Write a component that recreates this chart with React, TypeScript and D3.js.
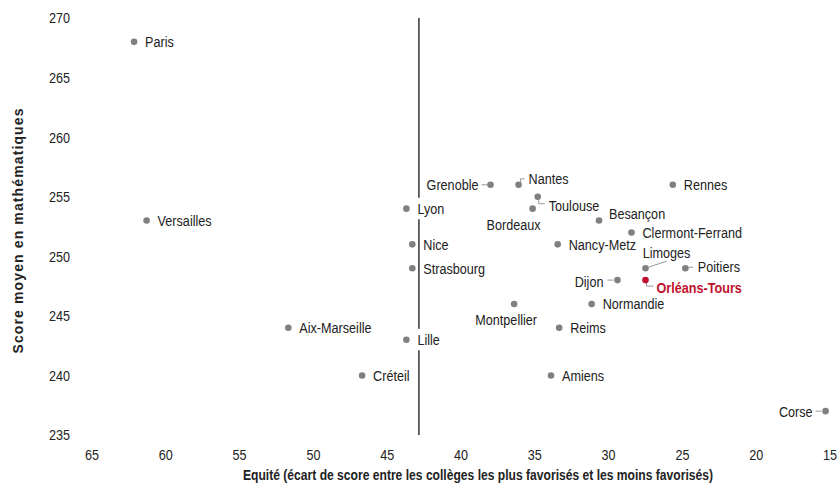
import React, { useEffect, useRef } from "react";
import * as d3 from "d3";

const W = 838;
const H = 483;

// Académies: equity gap (x) and mean score in maths (y)
const academies = [
  "Paris", "Versailles", "Grenoble", "Nantes", "Toulouse", "Bordeaux", "Lyon",
  "Rennes", "Besançon", "Clermont-Ferrand", "Nice", "Nancy-Metz", "Limoges",
  "Poitiers", "Strasbourg", "Dijon", "Orléans-Tours", "Montpellier", "Normandie",
  "Aix-Marseille", "Reims", "Lille", "Créteil", "Amiens", "Corse",
];
const equite = [
  62.15, 61.3, 38.0, 36.1, 34.8, 35.15, 43.7,
  25.65, 30.65, 28.45, 43.3, 33.45, 27.5,
  24.8, 43.3, 29.4, 27.5, 36.4, 31.15,
  51.7, 33.35, 43.7, 46.7, 33.9, 15.3,
];
const scores = [
  268, 253, 256, 256, 255, 254, 254,
  256, 253, 252, 251, 251, 249,
  249, 249, 248, 248, 246, 246,
  244, 244, 243, 240, 240, 237,
];
const xTicks = [65, 60, 55, 50, 45, 40, 35, 30, 25, 20, 15];
const yTicks = [270, 265, 260, 255, 250, 245, 240, 235];
const moyenneEquite = 42.85;
const highlight = "Orléans-Tours";

type Place = { dx: number; dy: number; anchor: string; leader?: [number, number][] };

// label placement (offsets from the point, in px)
const placement: Record<string, Place> = {
  Grenoble: { dx: -12, dy: 0, anchor: "end", leader: [[-3, 0], [-9, 0]] },
  Dijon: { dx: -14, dy: 1, anchor: "end", leader: [[-4, 0], [-10, 0]] },
  Corse: { dx: -13, dy: 0, anchor: "end", leader: [[-4, 0], [-10, 0]] },
  Nantes: { dx: 10, dy: -6, anchor: "start", leader: [[2, -2], [2, -6], [6, -6]] },
  Toulouse: { dx: 11, dy: 8.5, anchor: "start", leader: [[1, 3], [1, 7], [7, 7]] },
  Bordeaux: { dx: -19, dy: 16, anchor: "middle" },
  Montpellier: { dx: -8, dy: 16, anchor: "middle" },
  Besançon: { dx: 10, dy: -6.5, anchor: "start" },
  Limoges: { dx: 21, dy: -16, anchor: "middle", leader: [[3, -1], [21, -7]] },
  Poitiers: { dx: 12.5, dy: -2, anchor: "start", leader: [[3, -1], [8, -1]] },
  "Orléans-Tours": { dx: 11, dy: 7, anchor: "start", leader: [[1, 2], [1, 6], [8, 6]] },
};

const FONT = "'Liberation Sans', Arial, sans-serif";
const NARROW = 0.82; // no Arial Narrow here: squeeze Liberation Sans

export default function App() {
  const svgRef = useRef<SVGSVGElement>(null);

  useEffect(() => {
    document.body.style.margin = "0";
    if (!svgRef.current) return;
    const svg = d3.select(svgRef.current);
    svg.selectAll("*").remove();

    const x = d3.scaleLinear().domain([65, 15]).range([92, 830]);
    const y = d3.scaleLinear().domain([270, 235]).range([18, 435]);

    const narrowText = (
      g: d3.Selection<SVGGElement, unknown, null, undefined>,
      tx: number, ty: number, txt: string, anchor: string,
      opts: { size?: number; weight?: string; fill?: string; box?: boolean } = {}
    ) => {
      const grp = g.append("g").attr("transform", `translate(${tx},${ty}) scale(${NARROW},1)`);
      const t = grp.append("text")
        .attr("dy", "0.35em")
        .attr("text-anchor", anchor)
        .style("font-family", FONT)
        .style("font-size", `${opts.size ?? 15.4}px`)
        .style("font-weight", opts.weight ?? "normal")
        .attr("fill", opts.fill ?? "#222")
        .text(txt);
      if (opts.box) {
        const b = (t.node() as SVGTextElement).getBBox();
        grp.insert("rect", "text")
          .attr("x", b.x - 3.5)
          .attr("y", b.y - 2)
          .attr("width", b.width + 7)
          .attr("height", b.height + 4)
          .attr("fill", "#fff");
      }
      return grp;
    };

    // tick labels
    const ticks = svg.append("g");
    yTicks.forEach(v => narrowText(ticks, 70, y(v), String(v), "end"));
    xTicks.forEach(v => narrowText(ticks, x(v), 455, String(v), "middle"));

    // axis titles
    svg.append("text")
      .attr("x", 478)
      .attr("y", 475)
      .attr("dy", "0.35em")
      .attr("text-anchor", "middle")
      .attr("textLength", 470)
      .attr("lengthAdjust", "spacingAndGlyphs")
      .style("font-family", FONT)
      .style("font-size", "15px")
      .style("font-weight", "bold")
      .attr("fill", "#222")
      .text("Equité (écart de score entre les collèges les plus favorisés et les moins favorisés)");

    svg.append("text")
      .attr("transform", "translate(18,231) rotate(-90)")
      .attr("dy", "0.35em")
      .attr("text-anchor", "middle")
      .attr("textLength", 245)
      .attr("lengthAdjust", "spacing")
      .style("font-family", FONT)
      .style("font-size", "14px")
      .style("font-weight", "bold")
      .attr("fill", "#222")
      .text("Score moyen en mathématiques");

    // average equity line
    svg.append("line")
      .attr("x1", x(moyenneEquite))
      .attr("x2", x(moyenneEquite))
      .attr("y1", y(270))
      .attr("y2", y(235))
      .attr("stroke", "#000")
      .attr("stroke-width", 1.2);

    const pts = academies.map((name, i) => ({
      name,
      px: x(equite[i]),
      py: y(scores[i]),
      place: placement[name] || { dx: 11, dy: 0, anchor: "start" },
    }));

    // labels with white boxes (they cut the vertical line)
    const labelLayer = svg.append("g");
    pts.forEach(d => {
      const hl = d.name === highlight;
      narrowText(labelLayer, d.px + d.place.dx, d.py + d.place.dy, d.name, d.place.anchor, {
        weight: hl ? "bold" : "normal",
        fill: hl ? "#c0102c" : "#222",
        box: true,
      });
    });

    // leader lines
    const line = d3.line();
    svg.append("g")
      .selectAll("path")
      .data(pts.filter(d => d.place.leader))
      .join("path")
      .attr("d", d => line(d.place.leader!.map(([a, b]) => [d.px + a, d.py + b]))!)
      .attr("fill", "none")
      .attr("stroke", "#999")
      .attr("stroke-width", 1);

    // points
    svg.append("g")
      .selectAll("circle")
      .data(pts)
      .join("circle")
      .attr("cx", d => d.px)
      .attr("cy", d => d.py)
      .attr("r", 3.3)
      .attr("fill", d => (d.name === highlight ? "#c0102c" : "#808080"));
  }, []);

  return <svg ref={svgRef} width={W} height={H} style={{ display: "block", background: "#fff" }} />;
}
